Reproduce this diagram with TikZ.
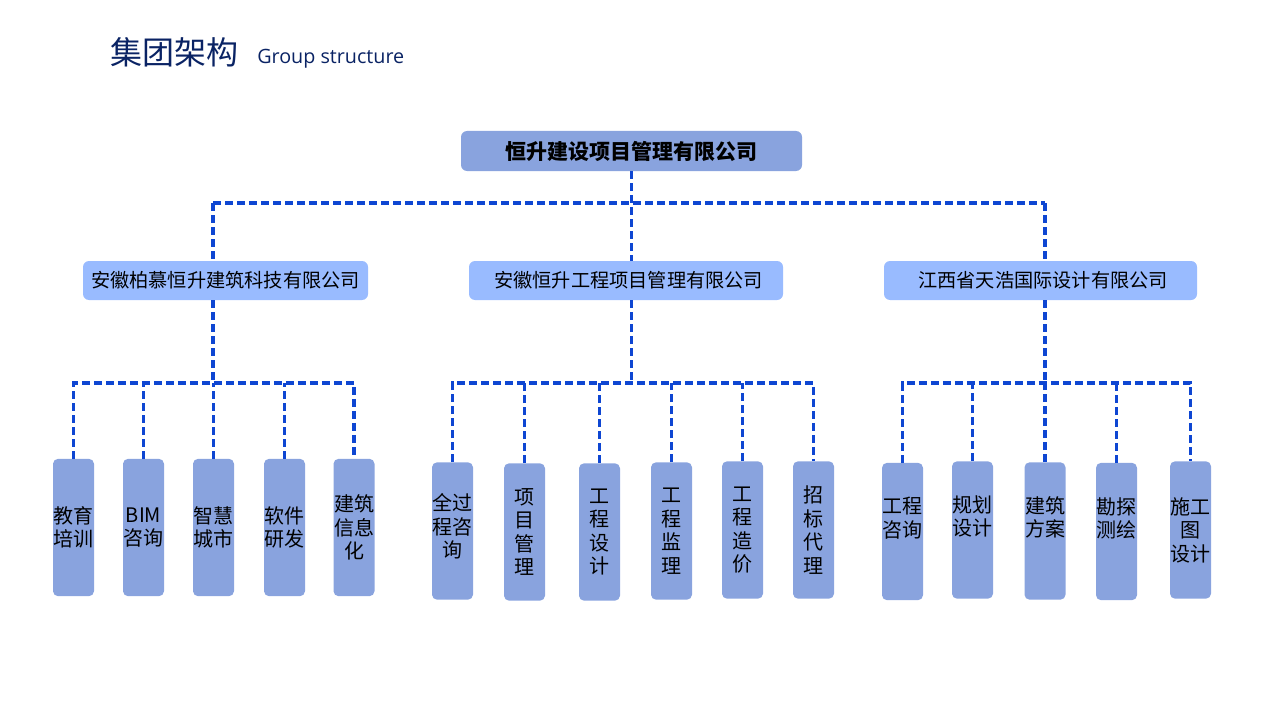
\documentclass[tikz,border=0pt]{standalone}
\usepackage{fontspec}
\setmainfont{Noto Sans CJK SC}
\newfontfamily\latinfont{Open Sans}
\definecolor{headblue}{HTML}{89A3DE}
\definecolor{subblue}{HTML}{99BBFF}
\definecolor{linkblue}{HTML}{0E46D2}
\definecolor{titleblue}{HTML}{0A2364}

\begin{document}
\begin{tikzpicture}[x=0.75pt, y=-0.75pt,
  topbox/.style={fill=headblue, rounded corners=4.5pt, minimum width=255.75pt, minimum height=30pt, font=\fontsize{15.75}{18}\selectfont\bfseries},
  subbox/.style={fill=subblue, rounded corners=4.5pt, minimum height=29.25pt, font=\fontsize{14.4}{17}\selectfont},
  leafbox/.style={fill=headblue, rounded corners=3.75pt, minimum width=30.75pt, minimum height=103pt, inner sep=0pt, align=center, font=\fontsize{15}{17.6}\selectfont},
  link/.style={draw=linkblue, line width=2.5pt, dash pattern=on 6pt off 3pt}]
\useasboundingbox (0,0) rectangle (1268,710);

% title
\node[anchor=base west, inner sep=0pt, text=titleblue, font=\fontsize{24}{28}\selectfont] (title) at (110,65) {集团架构};
\node[anchor=base west, inner sep=0pt, text=titleblue, font=\latinfont\fontsize{14.8}{17}\selectfont] (subtitle) at (257,64) {Group structure};

% companies
\node[topbox] (hs) at (631.5,151) {恒升建设项目管理有限公司};
\node[subbox, minimum width=213.75pt] (bm) at (225.5,280.5) {安徽柏慕恒升建筑科技有限公司};
\node[subbox, minimum width=235.5pt] (gc) at (626,280.5) {\hspace{4pt}安徽恒升工程项目管理有限公司};
\node[subbox, minimum width=234.75pt] (th) at (1040.5,280.5) {\hspace{4pt}江西省天浩国际设计有限公司};

% business units
\node[leafbox] (jy) at (73.5,527.5) {教育\\培训};
\node[leafbox] (bim) at (143.5,527.5) {BIM\\咨询};
\node[leafbox] (zh) at (213.5,527.5) {智慧\\城市};
\node[leafbox] (rj) at (284.5,527.5) {软件\\研发};
\node[leafbox] (xx) at (354,527.5) {建筑\\信息\\化};

\node[leafbox] (qgc) at (452.5,531) {全过\\程咨\\询\\[-10pt]\mbox{}};
\node[leafbox] (xm) at (524.5,532) {项\\目\\管\\理};
\node[leafbox] (sj) at (599.5,532) {工\\程\\设\\计};
\node[leafbox] (jl) at (671.5,531) {工\\程\\监\\理};
\node[leafbox] (zj) at (742.5,530) {工\\程\\造\\价};
\node[leafbox] (zb) at (813.5,530) {招\\标\\代\\理};

% text sits a little high in these boxes
\node[leafbox] (zx) at (902.5,531.5) {工程\\咨询\\[4pt]\mbox{}};
\node[leafbox] (gh) at (972.5,530) {规划\\设计\\[4pt]\mbox{}};
\node[leafbox] (fa) at (1045,531) {建筑\\方案\\[4pt]\mbox{}};
\node[leafbox] (kt) at (1116.5,531.5) {勘探\\测绘\\[3pt]\mbox{}};
\node[leafbox] (sgt) at (1190.5,530) {施工\\图\\设计};

% connectors
\coordinate (h1) at (213,203);
\coordinate (h3) at (1045,203);
\coordinate (b1) at (213,383);
\coordinate (b3) at (1045,383);
\draw[link] (h1) -- (h3);
\draw[link] (hs.south) -- (hs.south |- gc.north);
\draw[link] (h1) -- (h1 |- bm.north);
\draw[link] (h3) -- (h3 |- th.north);

\draw[link] (h1 |- bm.south) -- (b1);
\draw[link] (jy.north) |- (b1) -| (xx.north);
\draw[link] (bim.north) -- (bim.north |- b1);
\draw[link] (zh.north) -- (zh.north |- b1);
\draw[link] (rj.north) -- (rj.north |- b1);

\draw[link] (hs.south |- gc.south) -- (hs.south |- b1);
\draw[link] (qgc.north) |- (b1 -| hs.south) -| (zb.north);
\draw[link] (xm.north) -- (xm.north |- b1);
\draw[link] (sj.north) -- (sj.north |- b1);
\draw[link] (jl.north) -- (jl.north |- b1);
\draw[link] (zj.north) -- (zj.north |- b1);

\draw[link] (h3 |- th.south) -- (b3);
\draw[link] (zx.north) |- (b3) -| (sgt.north);
\draw[link] (gh.north) -- (gh.north |- b3);
\draw[link] (fa.north) -- (fa.north |- b3);
\draw[link] (kt.north) -- (kt.north |- b3);
\end{tikzpicture}
\end{document}
